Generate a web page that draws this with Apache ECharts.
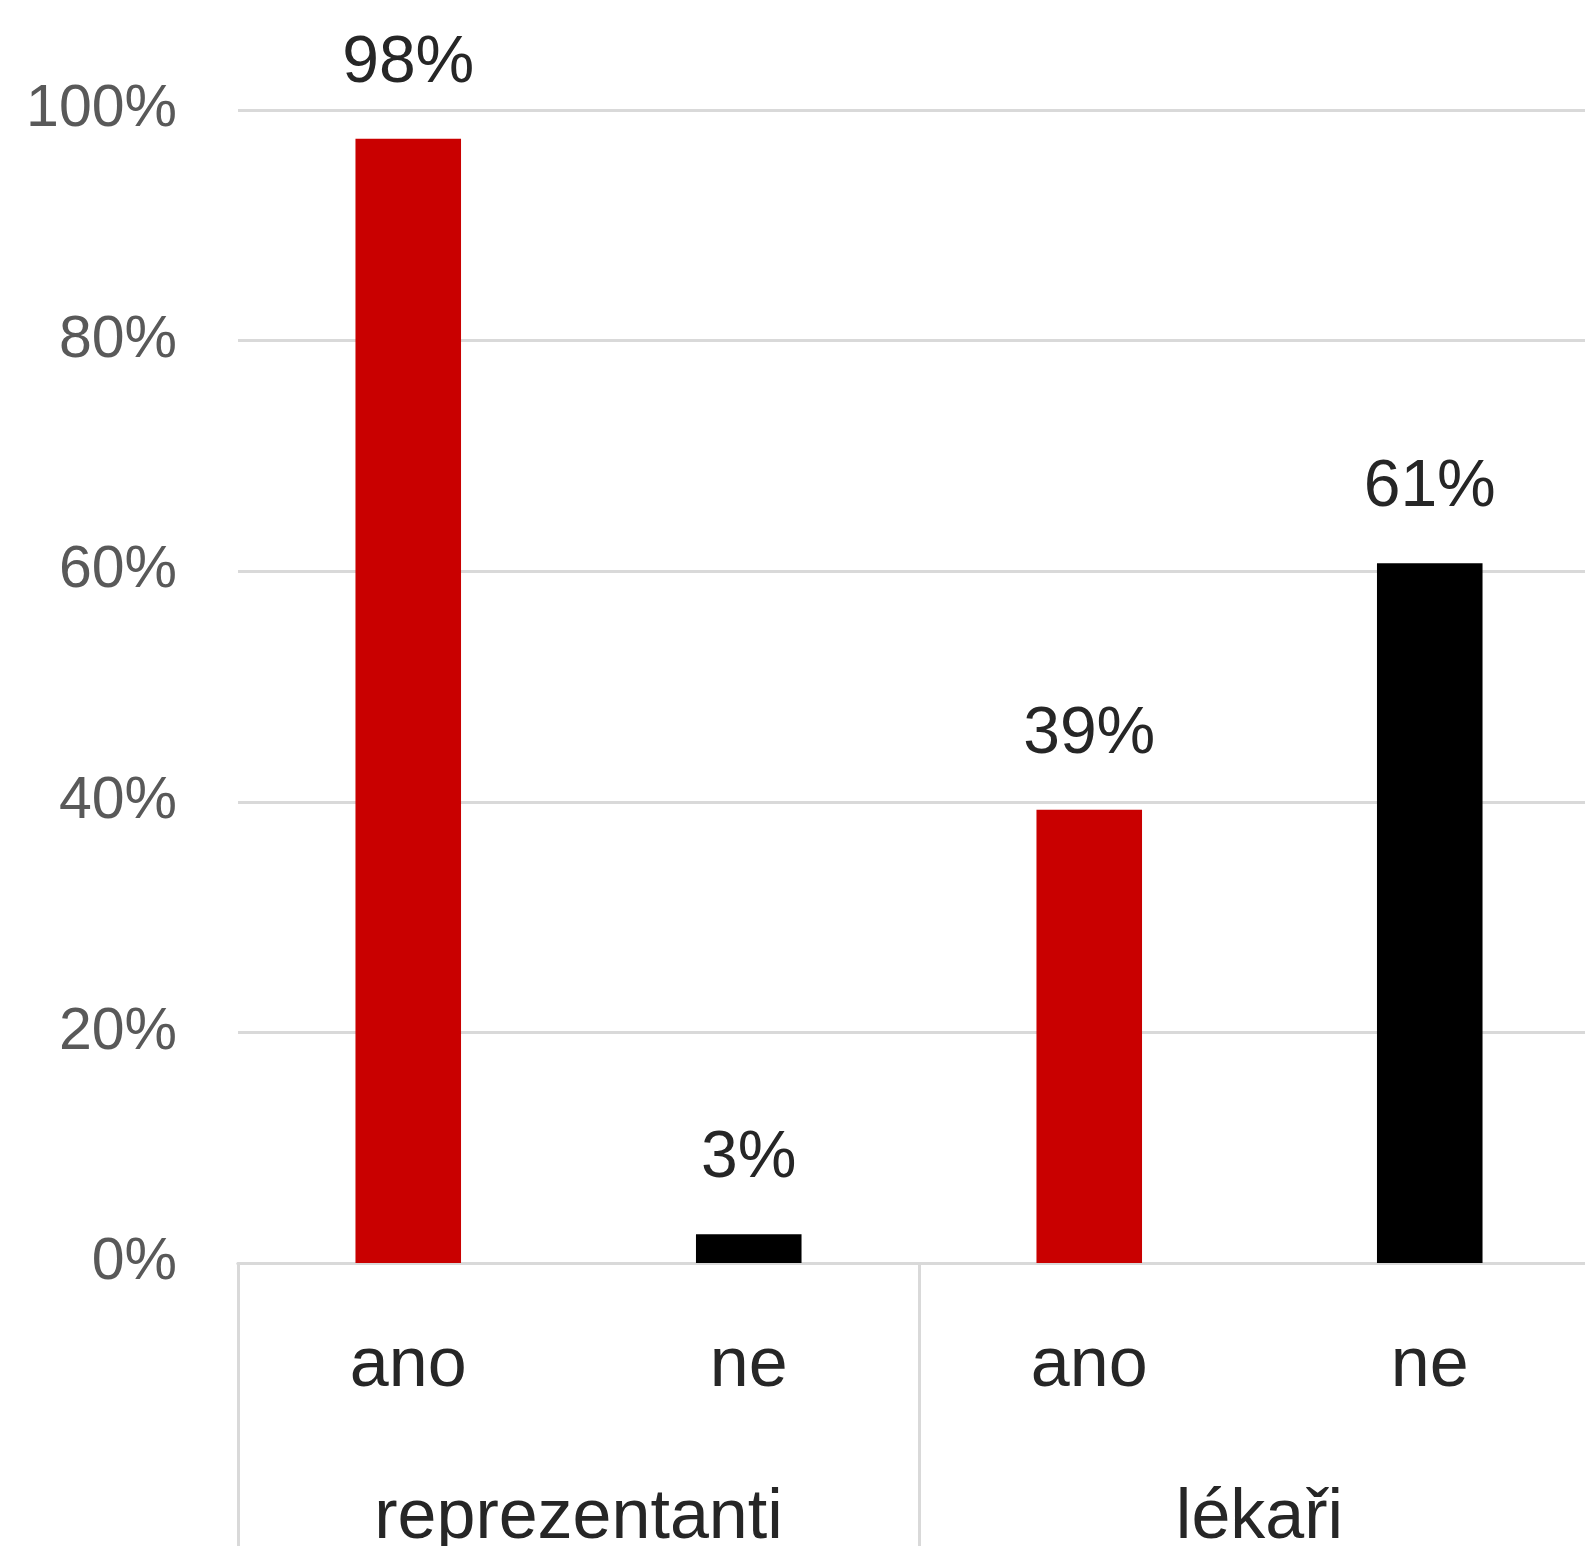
<!DOCTYPE html>
<html>
<head>
<meta charset="utf-8">
<script src="https://cdn.jsdelivr.net/npm/echarts@6/dist/echarts.min.js"></script>
<style>
html,body{margin:0;padding:0;background:#fff;}
#chart{width:1585px;height:1546px;}
</style>
</head>
<body>
<div id="chart"></div>
<script>
// Data
const categories = ['ano', 'ne', 'ano', 'ne'];
const groups = ['reprezentanti', 'lékaři'];
const values = [97.5, 2.5, 39.3, 60.7];
const answerColors = { ano: '#C90000', ne: '#000000' };
const yTicks = [0, 20, 40, 60, 80, 100];

const chart = echarts.init(document.getElementById('chart'));
const FONT = 'Liberation Sans, Arial, sans-serif';
const GRID_COLOR = '#d9d9d9';

chart.setOption({
  backgroundColor: '#ffffff',
  animation: false,
  grid: { left: 238, top: 110, width: 1362, height: 1153, containLabel: false, outerBoundsMode: 'none' },
  xAxis: [
    {
      type: 'category',
      data: categories,
      position: 'bottom',
      axisLine: { show: true, lineStyle: { color: GRID_COLOR, width: 3 } },
      axisTick: { show: false },
      axisLabel: { color: '#262626', fontFamily: FONT, fontSize: 70, margin: 69 },
      splitLine: { show: false }
    },
    {
      type: 'category',
      data: groups,
      position: 'bottom',
      boundaryGap: true,
      axisLine: { show: true, lineStyle: { color: GRID_COLOR, width: 3 } },
      axisTick: { show: true, alignWithLabel: false, length: 300, lineStyle: { color: GRID_COLOR, width: 3 } },
      axisLabel: { color: '#262626', fontFamily: FONT, fontSize: 70, margin: 221 },
      splitLine: { show: false }
    }
  ],
  yAxis: {
    type: 'value',
    min: yTicks[0],
    max: yTicks[yTicks.length - 1],
    interval: yTicks[1] - yTicks[0],
    axisLine: { show: false },
    axisTick: { show: false },
    axisLabel: { formatter: '{value}%', color: '#595959', fontFamily: FONT, fontSize: 59, margin: 61, padding: [0, 0, 6, 0] },
    splitLine: { show: true, lineStyle: { color: GRID_COLOR, width: 3 } }
  },
  series: [
    {
      type: 'bar',
      xAxisIndex: 0,
      barWidth: '31%',
      data: values.map((v, i) => ({ value: v, itemStyle: { color: answerColors[categories[i]] } })),
      label: {
        show: true,
        position: 'top',
        distance: 42,
        color: '#262626',
        fontFamily: FONT,
        fontSize: 66,
        formatter: p => Math.round(p.value) + '%'
      }
    }
  ]
});
</script>
</body>
</html>
